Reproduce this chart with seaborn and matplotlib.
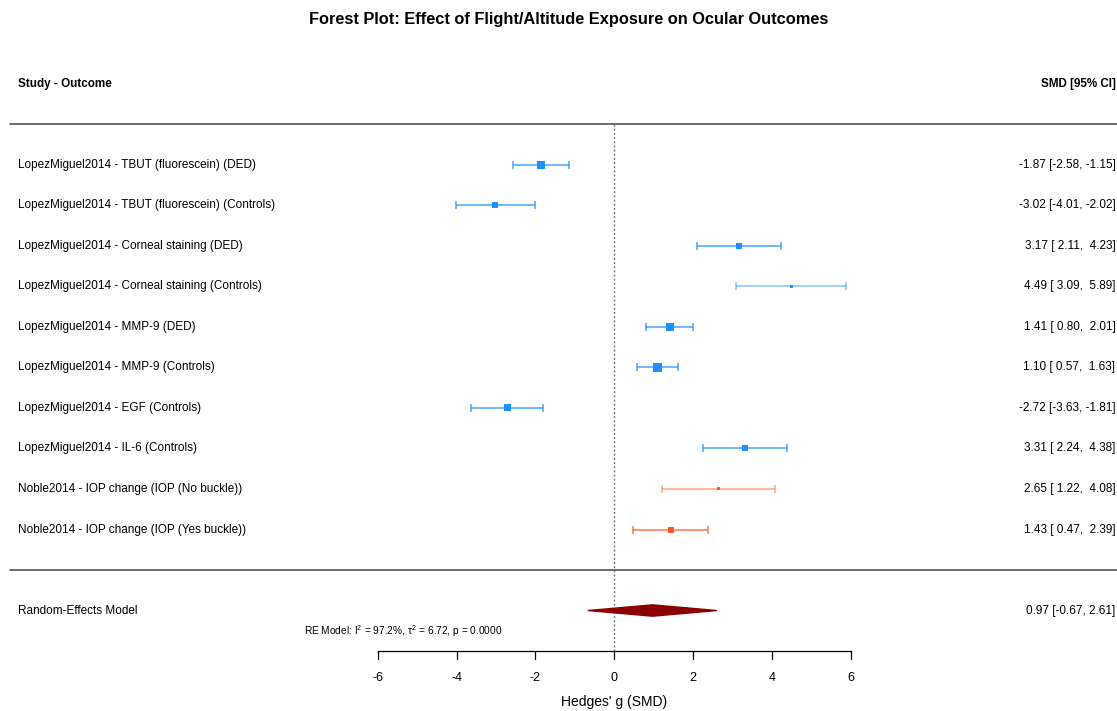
import numpy as np
import pandas as pd
import matplotlib
matplotlib.use('Agg')
import matplotlib.pyplot as plt
import seaborn as sns

# 数据
labels = ['LopezMiguel2014 - TBUT (fluorescein) (DED)',
          'LopezMiguel2014 - TBUT (fluorescein) (Controls)',
          'LopezMiguel2014 - Corneal staining (DED)',
          'LopezMiguel2014 - Corneal staining (Controls)',
          'LopezMiguel2014 - MMP-9 (DED)',
          'LopezMiguel2014 - MMP-9 (Controls)',
          'LopezMiguel2014 - EGF (Controls)',
          'LopezMiguel2014 - IL-6 (Controls)',
          'Noble2014 - IOP change (IOP (No buckle))',
          'Noble2014 - IOP change (IOP (Yes buckle))']
smd = [-1.87, -3.02, 3.17, 4.49, 1.41, 1.10, -2.72, 3.31, 2.65, 1.43]
ci_lo = [-2.58, -4.01, 2.11, 3.09, 0.80, 0.57, -3.63, 2.24, 1.22, 0.47]
ci_hi = [-1.15, -2.02, 4.23, 5.89, 2.01, 1.63, -1.81, 4.38, 4.08, 2.39]
group = ['LopezMiguel2014'] * 8 + ['Noble2014'] * 2
# 权重(按方块大小估计)
weight = [8, 6, 6, 3, 8, 9, 7, 6, 3, 6]

re_est, re_lo, re_hi = 0.97, -0.67, 2.61
re_text = 'RE Model: I$^2$ = 97.2%, $\\tau^2$ = 6.72, p = 0.0000'
xticks = [-6, -4, -2, 0, 2, 4, 6]

df = pd.DataFrame({'label': labels, 'smd': smd, 'lo': ci_lo, 'hi': ci_hi,
                   'group': group, 'w': weight})
df['row'] = np.arange(1, len(df) + 1)

sns.set_theme(style='white')
plt.rcParams['font.family'] = ['Liberation Sans', 'DejaVu Sans']
plt.rcParams['text.color'] = 'black'
plt.rcParams['mathtext.fontset'] = 'custom'
plt.rcParams['mathtext.rm'] = 'Liberation Sans'
plt.rcParams['mathtext.it'] = 'Liberation Sans'

colors = {'LopezMiguel2014': '#1E90FF', 'Noble2014': '#FF5A2A'}

fig = plt.figure(figsize=(11.17, 7.11), dpi=100)
ax = fig.add_axes([0, 0, 1, 1])
ax.set_xlim(-15.59, 12.76)
ax.set_ylim(14.48, -3.07)
ax.axis('off')

# 置信区间
for _, r in df.iterrows():
    a = 0.75 if r['w'] >= 6 else 0.5
    ax.errorbar(r['smd'], r['row'], xerr=[[r['smd'] - r['lo']], [r['hi'] - r['smd']]],
                fmt='none', ecolor=colors[r['group']], alpha=a, elinewidth=1.2,
                capsize=2.6, capthick=1.2)

# 点估计
df['size'] = (df['w'] / 1.39) ** 2
sns.scatterplot(data=df, x='smd', y='row', hue='group', palette=colors, size='size',
                sizes=(df['size'].min(), df['size'].max()), marker='s',
                edgecolor='none', legend=False, ax=ax, zorder=3)

# 零线
ax.plot([0, 0], [0, 13], ls=(0, (1.5, 1.5)), color='#777777', lw=1, zorder=1)

# 分隔线
for yy in [0, 11]:
    ax.plot([-15.34, 12.76], [yy, yy], color='#555555', lw=1.2)

# 合并效应菱形
ax.fill([re_lo, re_est, re_hi, re_est], [12, 12 - 0.14, 12, 12 + 0.14],
        color='#8B0000', zorder=3)

# 文本
fs = 8.45
xr = 12.72
ax.text(-15.13, -1, 'Study - Outcome', fontsize=8.4, fontweight='bold', va='center')
ax.text(xr, -1, 'SMD [95% CI]', fontsize=8.4, fontweight='bold', va='center', ha='right')
for _, r in df.iterrows():
    ax.text(-15.13, r['row'], r['label'], fontsize=fs, va='center')
    ax.text(xr, r['row'], f"{r['smd']:.2f} [{r['lo']:5.2f}, {r['hi']:5.2f}]",
            fontsize=fs, va='center', ha='right')
ax.text(-15.13, 12, 'Random-Effects Model', fontsize=fs, va='center')
ax.text(xr, 12, f"{re_est:.2f} [{re_lo:.2f}, {re_hi:.2f}]", fontsize=fs, va='center', ha='right')
ax.text(-7.87, 12.5, re_text, fontsize=7.3, va='center')

# x轴
ax.plot([xticks[0], xticks[-1]], [13, 13], color='black', lw=0.9)
for t in xticks:
    ax.plot([t, t], [13, 13.2], color='black', lw=0.9)
    ax.text(t, 13.66, str(t), fontsize=9, ha='center', va='center')
ax.text(0, 14.26, "Hedges' g (SMD)", fontsize=10, ha='center', va='center')

ax.text(-1.16, -2.6, 'Forest Plot: Effect of Flight/Altitude Exposure on Ocular Outcomes',
        fontsize=11.8, fontweight='bold', ha='center', va='center')

fig.savefig('out.png', dpi=100)
